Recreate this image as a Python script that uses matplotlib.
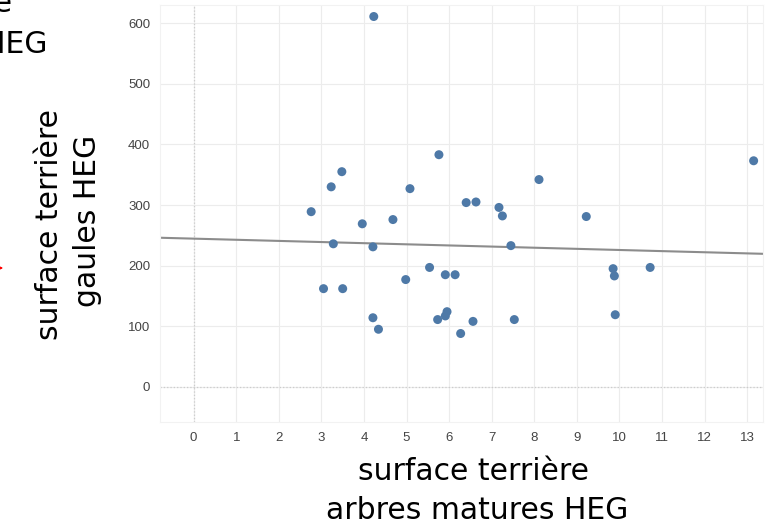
import numpy as np
import matplotlib
matplotlib.use('Agg')
import matplotlib.pyplot as plt

# surface terriere arbres matures HEG (x) vs gaules HEG (y)
ArbresHEG = [4.23, 2.76, 3.23, 3.48, 3.96, 4.68, 5.08, 5.76, 3.28, 4.21,
             6.40, 6.63, 7.17, 7.25, 7.45, 8.11, 9.22, 13.15, 5.54, 4.98,
             5.91, 6.14, 9.85, 9.88, 10.72, 5.95, 5.91, 5.73, 6.56, 6.27,
             7.53, 9.90, 3.05, 3.50, 4.21, 4.34]
GaulesHEG = [611, 289, 330, 355, 269, 276, 327, 383, 236, 231,
             304, 305, 296, 282, 233, 342, 281, 373, 197, 177,
             185, 185, 195, 183, 197, 124, 117, 111, 108, 88,
             111, 119, 162, 162, 114, 95]

# trend line
TrendX = [-0.79, 13.37]
TrendY = [246, 219.5]

XTicks = list(range(0, 14))
YTicks = [0, 100, 200, 300, 400, 500, 600]

TickColor = '#444444'
GridColor = '#ececec'
Blue = '#4e79a7'

fig = plt.figure(figsize=(7.69, 5.26), dpi=100)
ax = fig.add_axes([160/769, (526-422)/526, (763-160)/769, (422-5)/526])

ax.set_xlim(-0.79, 13.37)
ax.set_ylim(-58, 630)
ax.set_xticks(XTicks)
ax.set_yticks(YTicks)
ax.set_xticklabels([str(v) for v in XTicks], fontsize=9.5, color=TickColor, family='Liberation Sans')
ax.set_yticklabels([str(v) for v in YTicks], fontsize=9.5, color=TickColor, family='Liberation Sans')
ax.tick_params(length=0, pad=7)

ax.grid(color=GridColor, linewidth=0.8)
ax.set_axisbelow(True)
# zero lines dotted
ax.axvline(0, color='#cccccc', linestyle=':', linewidth=0.9, zorder=1)
ax.axhline(0, color='#cccccc', linestyle=':', linewidth=0.9, zorder=1)
for s in ax.spines.values():
    s.set_color('#f2f2f2')

ax.plot(TrendX, TrendY, color='#8c8c8c', linewidth=1.5, zorder=2)
ax.scatter(ArbresHEG, GaulesHEG, s=42, color=Blue, edgecolors='none', zorder=3)

# slide text around the chart
SlideFont = ['DejaVu Sans']
Fs = 21.5
fig.text(474/769, 1 - 480/526, 'surface terrière', ha='center', va='baseline', fontsize=Fs, family=SlideFont)
fig.text(477/769, 1 - 519/526, 'arbres matures HEG', ha='center', va='baseline', fontsize=Fs, family=SlideFont)
fig.text(50/769, 1 - 225/526, 'surface terrière', ha='center', va='center', rotation=90, fontsize=Fs, family=SlideFont)
fig.text(87/769, 1 - 221/526, 'gaules HEG', ha='center', va='center', rotation=90, fontsize=Fs, family=SlideFont)

# cut-off text in the corner
fig.text(12/769, 1 - 12/526, 'terrière', ha='right', va='baseline', fontsize=Fs, family=SlideFont)
fig.text(48/769, 1 - 53/526, 'matures HEG', ha='right', va='baseline', fontsize=Fs, family=SlideFont)

# red arrow tip at the left edge
fig.add_artist(matplotlib.patches.FancyArrowPatch((-20/769, 1 - 268/526), (6/769, 1 - 268/526),
               transform=fig.transFigure, arrowstyle='-|>', mutation_scale=8, color='red', linewidth=1))

fig.savefig('out.png', dpi=100)
plt.close()
